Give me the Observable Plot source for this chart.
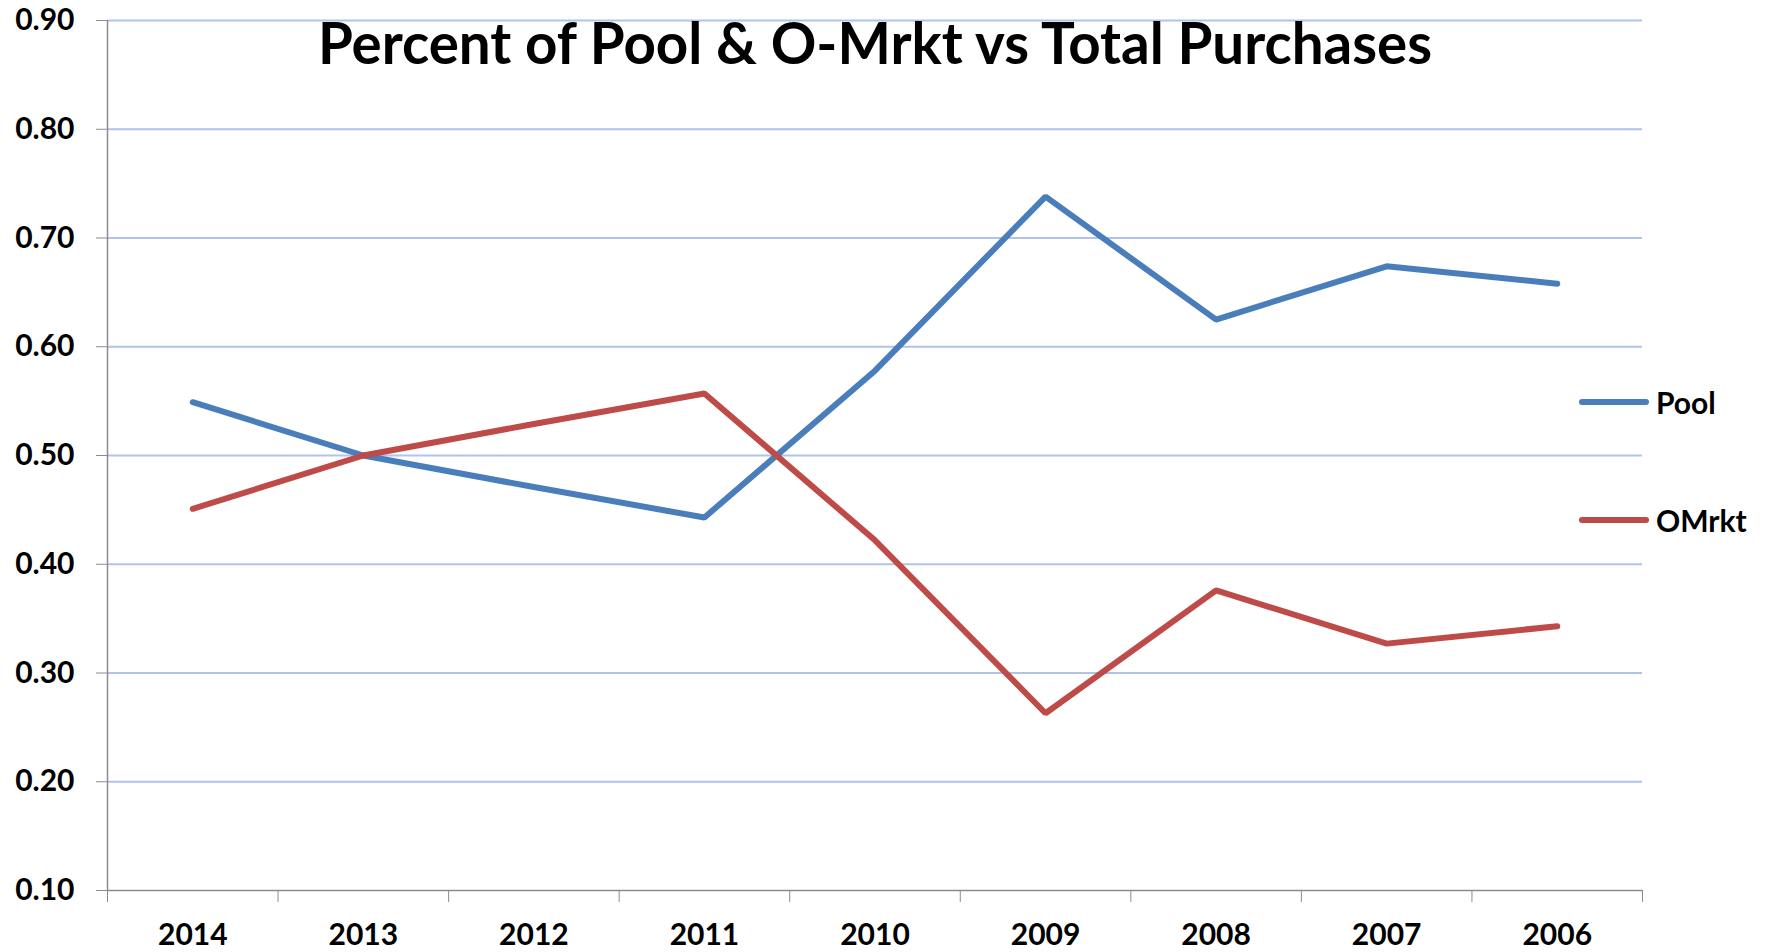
<!DOCTYPE html>
<html>
<head>
<meta charset="utf-8">
<script src="https://cdn.jsdelivr.net/npm/d3@7"></script>
<script src="https://cdn.jsdelivr.net/npm/@observablehq/plot@0.6"></script>
<style>
  html, body { margin: 0; padding: 0; background: #fff; }
  #wrap { position: relative; width: 1767px; height: 952px; font-family: Lato, "Open Sans", sans-serif; }
  #wrap svg { position: absolute; left: 0; top: 0; }
  .leg { position: absolute; left: 1579px; display: flex; align-items: center; font-weight: 700; font-size: 30px; color: #000; }
  .leg .sw { width: 70px; height: 6px; border-radius: 3px; margin-right: 7px; }
</style>
</head>
<body>
<div id="wrap"></div>
<script>
const title = "Percent of Pool & O-Mrkt vs Total Purchases";
const years = ["2014", "2013", "2012", "2011", "2010", "2009", "2008", "2007", "2006"];
const pool  = [0.549, 0.500, 0.471, 0.443, 0.578, 0.738, 0.625, 0.674, 0.658];
const omrkt = [0.451, 0.500, 0.529, 0.557, 0.422, 0.263, 0.376, 0.327, 0.343];
const yTicks = [0.10, 0.20, 0.30, 0.40, 0.50, 0.60, 0.70, 0.80, 0.90];
const seriesNames = ["Pool", "OMrkt"];
const seriesColors = ["#4a7ebb", "#be4b48"];
const legendTops = [384, 502];

const xDomain = [-0.5, years.length - 0.5];
const idx = d3.range(years.length);
const bounds = d3.range(years.length + 1).map(i => i - 0.5);
const rows = (vals) => vals.map((v, i) => ({i, v}));

const chart = Plot.plot({
  width: 1767,
  height: 952,
  marginLeft: 107,
  marginRight: 125,
  marginTop: 20,
  marginBottom: 62,
  style: {fontFamily: "Lato, 'Open Sans', sans-serif", background: "#fff"},
  x: {domain: xDomain},
  y: {domain: [0.1, 0.9]},
  marks: [
    Plot.gridY(yTicks.slice(1), {stroke: "#b0c3ea", strokeOpacity: 1, strokeWidth: 2}),
    Plot.ruleY([0.1], {stroke: "#8c8c8c", strokeWidth: 1.5}),
    Plot.ruleX([xDomain[0]], {stroke: "#8c8c8c", strokeWidth: 1.5}),
    Plot.axisY(yTicks, {tickSize: 11, tickPadding: 22, tickFormat: d => d.toFixed(2), fontSize: 30, fontWeight: 700, fill: "#000", stroke: "#8c8c8c", label: null}),
    Plot.axisX(bounds, {tickSize: 12, tickFormat: () => "", stroke: "#8c8c8c", label: null}),
    Plot.axisX(idx, {tickSize: 0, tickPadding: 33, tickFormat: i => years[i], fontSize: 30, fontWeight: 700, fill: "#000", label: null}),
    Plot.line(rows(pool), {x: "i", y: "v", stroke: seriesColors[0], strokeWidth: 6, strokeLinecap: "round", strokeLinejoin: "miter"}),
    Plot.line(rows(omrkt), {x: "i", y: "v", stroke: seriesColors[1], strokeWidth: 6, strokeLinecap: "round", strokeLinejoin: "miter"}),
    Plot.text([title], {frameAnchor: "top", lineAnchor: "top", dy: 3, fontSize: 56.5, fontWeight: 700, fill: "#000"})
  ]
});

const wrap = document.getElementById("wrap");
wrap.appendChild(chart);
seriesNames.forEach((name, k) => {
  const d = document.createElement("div");
  d.className = "leg";
  d.style.top = legendTops[k] + "px";
  d.innerHTML = `<span class="sw" style="background:${seriesColors[k]}"></span><span>${name}</span>`;
  wrap.appendChild(d);
});
</script>
</body>
</html>
